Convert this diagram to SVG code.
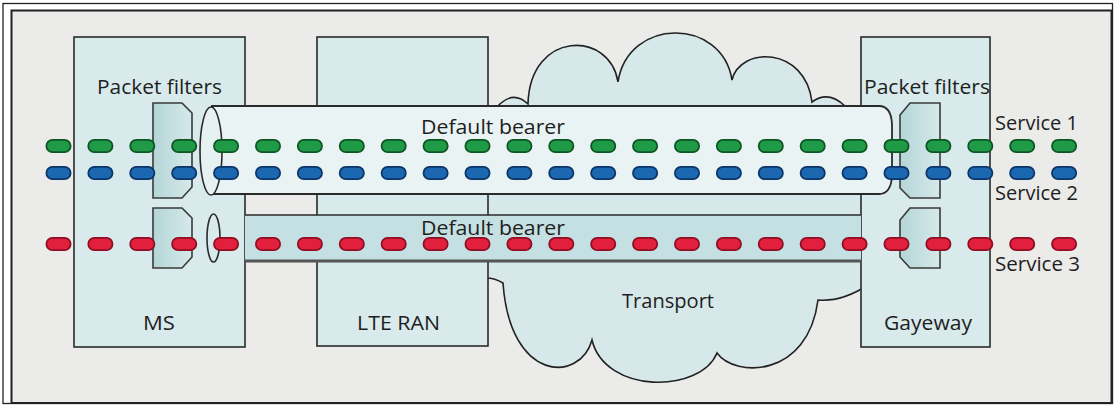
<svg xmlns="http://www.w3.org/2000/svg" width="1116" height="406" viewBox="0 0 1116 406">
<defs>
<style>
.box{fill:#d8eaeb;stroke:#2a2a2a;stroke-width:1.6}
.pf{fill:#bcdadb;stroke:#3a3a3a;stroke-width:1.6}
.lbl{font-family:"Open Sans","Noto Sans","Liberation Sans",sans-serif;font-size:20px;fill:#1e1e1e}
.dashO{fill:none;stroke-width:14;stroke-linecap:round;stroke-dasharray:12 29.9}
.dashI{fill:none;stroke-width:10.5;stroke-linecap:round;stroke-dasharray:12 29.9}
</style>
<linearGradient id="pfg" x1="0" y1="0" x2="1" y2="0">
<stop offset="0" stop-color="#b4d5d7"/>
<stop offset="1" stop-color="#d6e9ea"/>
</linearGradient>
</defs>
<g id="frame">
<rect x="3" y="3.5" width="1109.5" height="400" fill="#ffffff" stroke="#222" stroke-width="1.3"/>
<rect x="11.5" y="10.5" width="1100" height="392.5" fill="#ebebe9" stroke="#222" stroke-width="2"/>
</g>
<g id="cloud">
<path d="M486,106 L498,106 Q513,90 528,104 C530,30 610,30 618,82 C628,17 722,17 732,80 C740,46 805,46 812,102 Q828,90 845,106 L868,106 L868,285 Q842,302 818,300 C808,378 735,378 717,353 C700,394 605,394 592,340 C580,383 510,383 503,283 Q495,278 486,278 Z" fill="#d6e8ea" stroke="#222" stroke-width="1.6"/>
<text class="lbl" x="622" y="308" textLength="92" lengthAdjust="spacingAndGlyphs">Transport</text>
</g>
<g id="ms">
<rect class="box" x="74" y="37" width="171" height="310"/>
<text class="lbl" x="143" y="330" textLength="32" lengthAdjust="spacingAndGlyphs">MS</text>
</g>
<g id="lteran">
<rect class="box" x="317" y="37" width="171" height="309"/>
<text class="lbl" x="357" y="330" textLength="83" lengthAdjust="spacingAndGlyphs">LTE RAN</text>
</g>
<g id="gateway">
<rect class="box" x="861" y="37" width="129" height="310"/>
<text class="lbl" x="884" y="330" textLength="88" lengthAdjust="spacingAndGlyphs">Gayeway</text>
</g>
<g id="bearer2">
<rect x="245" y="215" width="616" height="47" fill="#c5e0e2"/>
<line x1="245" y1="215" x2="861" y2="215" stroke="#2a2a2a" stroke-width="1.6"/>
<line x1="245" y1="261" x2="861" y2="261" stroke="#555" stroke-width="3"/>
<ellipse cx="213.5" cy="238" rx="6.5" ry="24" fill="#d8eaeb" stroke="#2a2a2a" stroke-width="1.6"/>
<text class="lbl" x="421" y="235" textLength="144" lengthAdjust="spacingAndGlyphs">Default bearer</text>
</g>
<g id="bearer1">
<path d="M211,106 L879,106 Q891,106 892,124 L892,176 Q891,194 879,194 L211,194" fill="#e9f3f3" stroke="#2a2a2a" stroke-width="1.8"/>
<ellipse cx="211" cy="151" rx="11" ry="44" fill="#e6f1f1" stroke="#2a2a2a" stroke-width="1.6"/>
<text class="lbl" x="421" y="134" textLength="144" lengthAdjust="spacingAndGlyphs">Default bearer</text>
</g>
<g id="pf-ms">
<path class="pf" fill="url(#pfg)" style="fill:url(#pfg)" d="M153,103 L182,103 L192,113 L192,187 L182,198 L153,198 Z"/>
<path class="pf" style="fill:url(#pfg)" d="M153,208 L182,208 L192,218 L192,257 L182,268 L153,268 Z"/>
<text class="lbl" x="97" y="94" textLength="125" lengthAdjust="spacingAndGlyphs">Packet filters</text>
</g>
<g id="pf-gw">
<path class="pf" style="fill:url(#pfg)" d="M940,103 L910,103 L900,115 L900,188 L910,198 L940,198 Z"/>
<path class="pf" style="fill:url(#pfg)" d="M940,208 L910,208 L900,220 L900,257 L910,268 L940,268 Z"/>
<text class="lbl" x="864" y="94" textLength="126" lengthAdjust="spacingAndGlyphs">Packet filters</text>
</g>
<g id="connectors">
<line class="dashO" x1="52.5" y1="146" x2="1080" y2="146" stroke="#0e5524"/>
<line class="dashI" x1="52.5" y1="146" x2="1080" y2="146" stroke="#1f9a46"/>
<line class="dashO" x1="52.5" y1="173" x2="1080" y2="173" stroke="#0b3568"/>
<line class="dashI" x1="52.5" y1="173" x2="1080" y2="173" stroke="#1c68b0"/>
<line class="dashO" x1="52.5" y1="244" x2="1080" y2="244" stroke="#8e0f24"/>
<line class="dashI" x1="52.5" y1="244" x2="1080" y2="244" stroke="#e2203e"/>
</g>
<g id="services">
<text class="lbl" x="995" y="130" textLength="83" lengthAdjust="spacingAndGlyphs">Service 1</text>
<text class="lbl" x="995" y="200" textLength="83" lengthAdjust="spacingAndGlyphs">Service 2</text>
<text class="lbl" x="995" y="271" textLength="85" lengthAdjust="spacingAndGlyphs">Service 3</text>
</g>
</svg>
